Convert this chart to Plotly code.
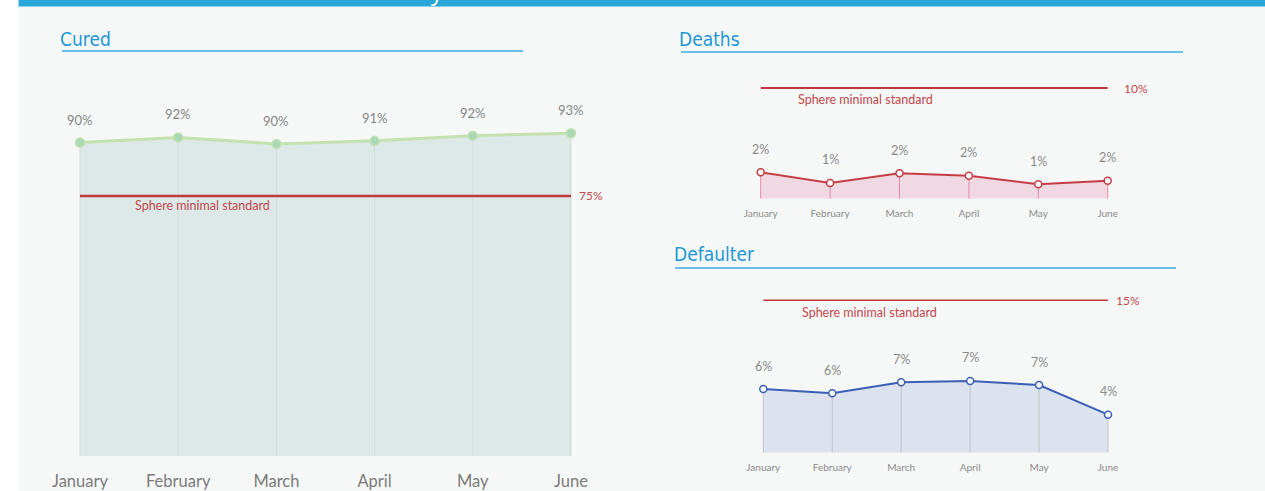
import plotly.graph_objects as go

# ---------------- data ----------------
months = ["January", "February", "March", "April", "May", "June"]
cured = [90.4, 91.9, 90.0, 90.9, 92.4, 93.1]
deaths = [2.38, 1.42, 2.29, 2.08, 1.30, 1.63]
defaulter = [6.27, 5.85, 6.93, 7.06, 6.66, 3.74]
std_cured = 75
std_deaths = 10
std_defaulter = 15
std_text = "Sphere minimal standard"
titles = ["Cured", "Deaths", "Defaulter"]

W, H = 1265, 491
FONT = "Lato, 'Open Sans', sans-serif"
TFONT = "'Liberation Sans Narrow', 'DejaVu Sans Condensed', Roboto, sans-serif"
RED = "#c0393b"


def fx(p):
    return p / W


def fy(p):
    return 1 - p / H


panels = [
    dict(vals=cured, std=std_cured, jan=80, jun=571, base=456, ppu=3.467, top=90,
         line="#c4e1b0", lw=3, fill="#dde9e8", drop="#d3dcdb",
         mfill="#a8d8b6", mline="#c4e1b0", msize=9, mlw=1.5,
         tfs=16.5, tcol="#7b7b7b", tlen=10, lfs=13, lcol="#858585",
         sdx=6, scx=202, sdy=10, sfs=12.5, slw=2.5,
         title_x=60, title_y=39, ul=(62, 523, 51)),
    dict(vals=deaths, std=std_deaths, jan=760.7, jun=1107.7, base=198.7, ppu=11.07, top=66,
         line="#c43d44", lw=2, fill="#f0d9e2", drop="#e28aa8",
         mfill="#ffffff", mline="#c43d44", msize=7, mlw=1.5,
         tfs=10, tcol="#8a8a8a", tlen=5, lfs=12.5, lcol="#8a8a8a",
         sdx=14, scx=865, sdy=11, sfs=12.5, slw=2,
         title_x=679, title_y=39, ul=(681, 1183, 52)),
    dict(vals=defaulter, std=std_defaulter, jan=763.3, jun=1108, base=452.7, ppu=10.16, top=280,
         line="#3a5fb5", lw=2, fill="#dce2ee", drop="#c2c3c8",
         mfill="#ffffff", mline="#3a5fb5", msize=7, mlw=1.5,
         tfs=10, tcol="#8a8a8a", tlen=5, lfs=12.5, lcol="#8a8a8a",
         sdx=6, scx=869, sdy=11.7, sfs=12.5, slw=1.5,
         title_x=674, title_y=254, ul=(675, 1176, 268)),
]

fig = go.Figure()
annotations = []
shapes = []

# background
shapes.append(dict(type="rect", xref="paper", yref="paper", x0=fx(18.5), x1=1, y0=0, y1=fy(6),
                   fillcolor="#f6f8f8", line=dict(width=0), layer="below"))
shapes.append(dict(type="rect", xref="paper", yref="paper", x0=fx(18.5), x1=1, y0=fy(6), y1=1,
                   fillcolor="#28a7d9", line=dict(width=0), layer="below"))
shapes.append(dict(type="line", xref="paper", yref="paper", x0=fx(18.5), x1=1, y0=fy(6.5), y1=fy(6.5),
                   line=dict(color="#8fd0ee", width=1)))

layout_axes = {}
for i, (p, title) in enumerate(zip(panels, titles)):
    n = i + 1
    xa = "x" if n == 1 else f"x{n}"
    ya = "y" if n == 1 else f"y{n}"
    xkey = "xaxis" if n == 1 else f"xaxis{n}"
    ykey = "yaxis" if n == 1 else f"yaxis{n}"
    step = (p["jun"] - p["jan"]) / (len(months) - 1)
    left = p["jan"] - 0.5 * step
    right = p["jun"] + 0.5 * step
    ytop = (p["base"] - p["top"]) / p["ppu"]
    layout_axes[xkey] = dict(domain=[fx(left), fx(right)], range=[-0.5, len(months) - 0.5],
                             type="category", anchor=ya, showgrid=False, zeroline=False,
                             showline=False, ticks="outside", ticklen=p["tlen"],
                             tickcolor="rgba(0,0,0,0)", automargin=False,
                             tickfont=dict(family=FONT, size=p["tfs"], color=p["tcol"]),
                             fixedrange=True)
    layout_axes[ykey] = dict(domain=[fy(p["base"]), fy(p["top"])], range=[0, ytop],
                             anchor=xa, visible=False, fixedrange=True, automargin=False)

    vals = p["vals"]
    # area
    fig.add_trace(go.Scatter(x=months, y=vals, xaxis=xa, yaxis=ya, mode="lines",
                             line=dict(width=0, color=p["line"]), fill="tozeroy",
                             fillcolor=p["fill"], hoverinfo="skip", showlegend=False))
    # drop lines
    dx, dy = [], []
    for m, v in zip(months, vals):
        dx += [m, m, None]
        dy += [0, v, None]
    fig.add_trace(go.Scatter(x=dx, y=dy, xaxis=xa, yaxis=ya, mode="lines",
                             line=dict(width=1, color=p["drop"]), hoverinfo="skip",
                             showlegend=False))
    # standard line
    fig.add_trace(go.Scatter(x=[months[0], months[-1]], y=[p["std"], p["std"]], xaxis=xa, yaxis=ya,
                             mode="lines", line=dict(width=p["slw"], color=RED),
                             hoverinfo="skip", showlegend=False, cliponaxis=False))
    # line + markers
    fig.add_trace(go.Scatter(x=months, y=vals, xaxis=xa, yaxis=ya, mode="lines+markers",
                             line=dict(width=p["lw"], color=p["line"]),
                             marker=dict(size=p["msize"], color=p["mfill"],
                                         line=dict(width=p["mlw"], color=p["mline"])),
                             cliponaxis=False, showlegend=False,
                             hovertemplate="%{x}: %{y:.0f}%<extra></extra>"))
    # data labels
    for m, v in zip(months, vals):
        annotations.append(dict(x=m, y=v, xref=xa, yref=ya, text=f"{v:.0f}%", showarrow=False,
                                yshift=23, xanchor="center", yanchor="middle",
                                font=dict(family=FONT, size=p["lfs"], color=p["lcol"])))
    # standard labels
    annotations.append(dict(x=months[-1], y=p["std"], xref=xa, yref=ya, text=f"{p['std']}%",
                            showarrow=False, xanchor="left", yanchor="middle", xshift=p["sdx"],
                            font=dict(family=FONT, size=p["sfs"] - 0.5, color="#c4474a")))
    annotations.append(dict(x=fx(p["scx"]), y=p["std"], xref="paper", yref=ya, text=std_text,
                            showarrow=False, xanchor="center", yanchor="middle", yshift=-p["sdy"],
                            font=dict(family=FONT, size=p["sfs"], color="#c4474a")))
    # titles + underline
    annotations.append(dict(x=fx(p["title_x"]), y=fy(p["title_y"]), xref="paper", yref="paper",
                            text=title, showarrow=False, xanchor="left", yanchor="middle",
                            xshift=-2,
                            font=dict(family=TFONT, size=19, color="#1b97d5")))
    ux0, ux1, uy = p["ul"]
    shapes.append(dict(type="line", xref="paper", yref="paper", x0=fx(ux0), x1=fx(ux1),
                       y0=fy(uy), y1=fy(uy), line=dict(color="#3aaee0", width=1.5)))

# clipped page-title fragment visible in the top bar
annotations.append(dict(x=fx(437), y=fy(9), xref="paper", yref="paper", text="y", showarrow=False,
                        xanchor="center", yanchor="bottom",
                        font=dict(family="'Open Sans', sans-serif", size=24, color="#ffffff")))

fig.update_layout(width=W, height=H, margin=dict(l=0, r=0, t=0, b=0, autoexpand=False),
                  paper_bgcolor="#ffffff", plot_bgcolor="rgba(0,0,0,0)",
                  showlegend=False, annotations=annotations, shapes=shapes,
                  font=dict(family=FONT), **layout_axes)

fig.write_html("out.html", config={"displayModeBar": False},
               post_script="document.body.style.margin='0';document.body.style.overflow='hidden';")
